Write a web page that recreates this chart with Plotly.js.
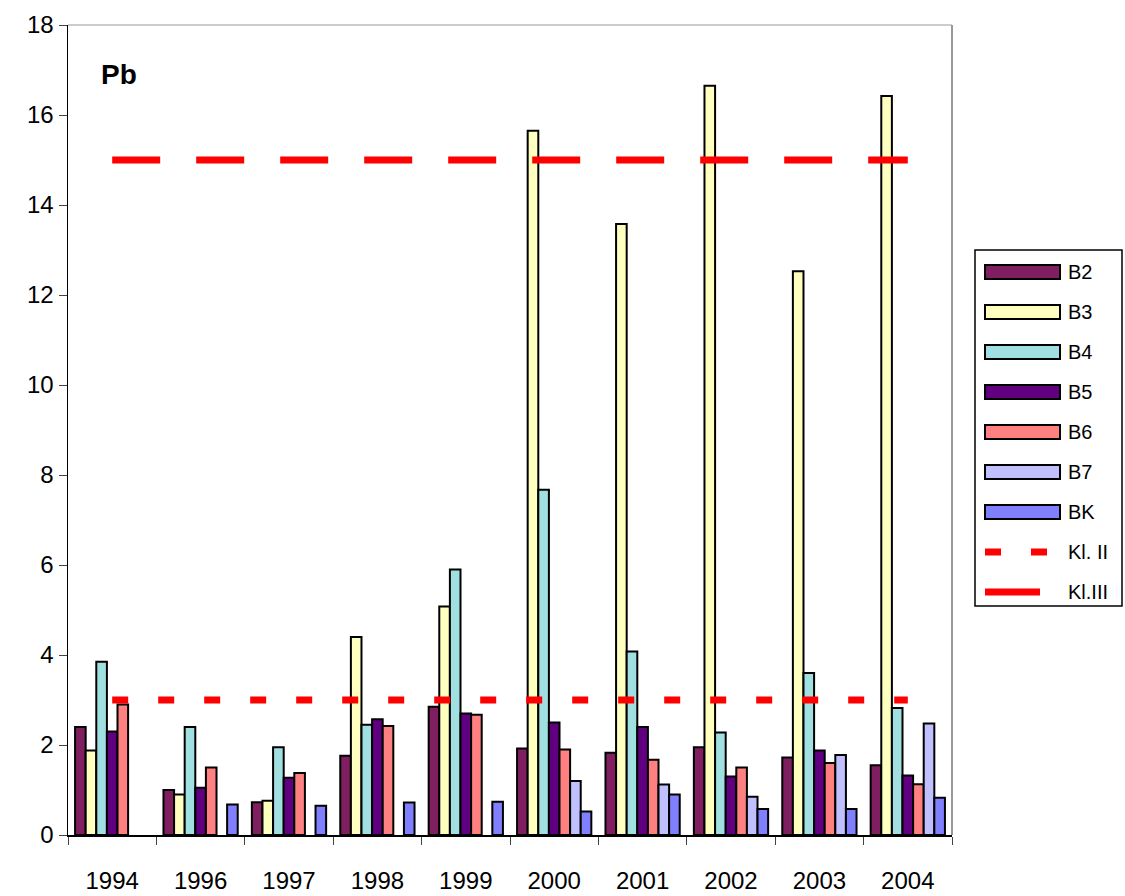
<!DOCTYPE html>
<html><head><meta charset="utf-8">
<script src="https://cdn.plot.ly/plotly-3.0.1.min.js"></script>
<style>body{margin:0}</style></head>
<body><div id="chart" style="width:1125px;height:896px"></div>
<script>
var years = ['1994','1996','1997','1998','1999','2000','2001','2002','2003','2004'];
var b2 = [2.4, 1.0, 0.73, 1.76, 2.85, 1.92, 1.83, 1.95, 1.72, 1.55];
var b3 = [1.88, 0.9, 0.76, 4.4, 5.08, 15.65, 13.58, 16.65, 12.53, 16.42];
var b4 = [3.85, 2.4, 1.95, 2.45, 5.9, 7.67, 4.08, 2.28, 3.6, 2.82];
var b5 = [2.3, 1.05, 1.27, 2.57, 2.7, 2.5, 2.4, 1.3, 1.88, 1.32];
var b6 = [2.9, 1.5, 1.38, 2.42, 2.67, 1.9, 1.67, 1.5, 1.6, 1.13];
var b7 = [null, null, null, null, null, 1.2, 1.12, 0.85, 1.78, 2.48];
var bk = [null, 0.68, 0.65, 0.72, 0.74, 0.52, 0.9, 0.58, 0.58, 0.83];
var kl2 = years.map(function(){ return 3; });
var kl3 = years.map(function(){ return 15; });

var series = [
  ['B2', b2, '#7f1f5f'], ['B3', b3, '#ffffc0'], ['B4', b4, '#a0e0e0'],
  ['B5', b5, '#600080'], ['B6', b6, '#ff8080'], ['B7', b7, '#c0c0ff'],
  ['BK', bk, '#8080ff']
];
var lines = [['Kl. II', kl2, '16px,30px'], ['Kl.III', kl3, '48px,36px']];

var data = series.map(function(s){
  return {type:'bar', name:s[0], x:years, y:s[1],
    marker:{color:s[2], line:{color:'#000', width:2}}};
});
lines.forEach(function(l){
  data.push({type:'scatter', mode:'lines', name:l[0], x:years, y:l[1],
    line:{color:'#ff0000', width:7, dash:l[2]}});
});

// hand-made legend (pixel -> paper coords)
var L = 68, T = 25, W = 884, H = 810;
function px(x){ return (x - L) / W; }
function py(y){ return 1 - (y - T) / H; }
var shapes = [
  {type:'line', xref:'paper', yref:'paper', x0:1, x1:1, y0:0, y1:1, line:{color:'#999', width:2}},
  {type:'line', xref:'paper', yref:'paper', x0:0, x1:1, y0:1, y1:1, line:{color:'#999', width:1}},
  {type:'rect', xref:'paper', yref:'paper', x0:px(975), x1:px(1122), y0:py(250), y1:py(606),
    line:{color:'#000', width:1.5}, fillcolor:'rgba(0,0,0,0)'}
];
var annotations = [{xref:'paper', yref:'paper', x:0.035, y:0.96, xanchor:'left', yanchor:'top',
  text:'<b>Pb</b>', showarrow:false, font:{size:28}}];
function legendText(t, yc){
  annotations.push({xref:'paper', yref:'paper', x:px(1066), y:py(yc), xanchor:'left',
    yanchor:'middle', text:t, showarrow:false, font:{size:20}});
}
series.forEach(function(s, i){
  var yc = 272 + i * 40;
  shapes.push({type:'rect', xref:'paper', yref:'paper', x0:px(985), x1:px(1060),
    y0:py(yc - 7), y1:py(yc + 7), fillcolor:s[2], line:{color:'#000', width:2}});
  legendText(s[0], yc);
});
lines.forEach(function(l, i){
  var yc = 272 + (i + 7) * 40;
  shapes.push({type:'line', xref:'paper', yref:'paper', x0:px(985), x1:px(i ? 1040 : 1060),
    y0:py(yc), y1:py(yc), line:{color:'#ff0000', width:7, dash:i ? 'solid' : '16px,30px'}});
  legendText(l[0], yc);
});

var layout = {
  width:1125, height:896,
  margin:{l:L, r:1125 - L - W, t:T, b:896 - T - H},
  paper_bgcolor:'#fff', plot_bgcolor:'#fff',
  font:{family:'Liberation Sans, Arial, sans-serif', size:24, color:'#000'},
  barmode:'group', bargap:0.16, bargroupgap:0,
  showlegend:false,
  xaxis:{type:'category', tickson:'boundaries', ticks:'outside', ticklen:8,
    showline:true, linecolor:'#000', linewidth:1.5, showgrid:false,
    ticklabelstandoff:24, tickfont:{size:24}},
  yaxis:{range:[0,18], dtick:2, ticks:'outside', ticklen:8, showline:true,
    linecolor:'#000', linewidth:1.5, showgrid:false, zeroline:false, tickfont:{size:24}},
  shapes:shapes,
  annotations:annotations
};
Plotly.newPlot('chart', data, layout, {staticPlot:true});
</script></body></html>
